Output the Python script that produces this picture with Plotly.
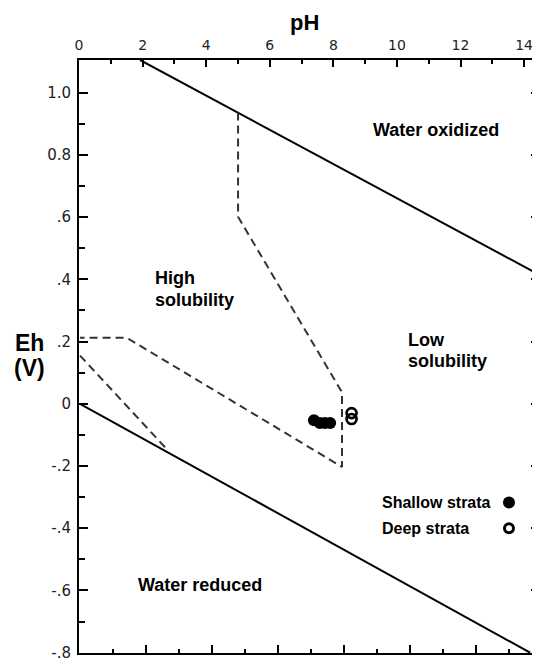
import plotly.graph_objects as go

# ---- data (pH, Eh in volts) ----
water_ox_ph = [1.82, 14.0]
water_ox_eh = [1.105, 0.41]

water_red_ph = [0.0, 13.64]
water_red_eh = [0.0, -0.80]

boundary_ph = [4.79, 4.79, 7.94, 7.94, 1.42, 0.0]
boundary_eh = [0.936, 0.601, 0.037, -0.203, 0.212, 0.212]

boundary2_ph = [0.0, 2.65]
boundary2_eh = [0.155, -0.148]

shallow_ph = [7.09, 7.27, 7.42, 7.58]
shallow_eh = [-0.053, -0.062, -0.062, -0.062]

deep_ph = [8.23, 8.23]
deep_eh = [-0.030, -0.049]

top_ticks = [0, 2, 4, 6, 8, 10, 12, 14]
eh_ticks = [-0.8, -0.6, -0.4, -0.2, 0.0, 0.2, 0.4, 0.6, 0.8, 1.0]
eh_ticktext = ["-.8", "-.6", "-.4", "-.2", "0", ".2", ".4", ".6", "0.8", "1.0"]
eh_minor = [-0.7, -0.5, -0.3, -0.1, 0.1, 0.3, 0.5, 0.7, 0.9]

legend_labels = ["Shallow strata", "Deep strata"]

# ---- figure ----
fig = go.Figure()
solid = dict(color="black", width=2)
dashed = dict(color="#333333", width=2, dash="8px,5px")

fig.add_trace(go.Scatter(x=water_ox_ph, y=water_ox_eh, mode="lines", line=solid, showlegend=False))
fig.add_trace(go.Scatter(x=water_red_ph, y=water_red_eh, mode="lines", line=solid, showlegend=False))
fig.add_trace(go.Scatter(x=boundary_ph, y=boundary_eh, mode="lines", line=dashed, showlegend=False))
fig.add_trace(go.Scatter(x=boundary2_ph, y=boundary2_eh, mode="lines", line=dashed, showlegend=False))

fig.add_trace(go.Scatter(x=shallow_ph, y=shallow_eh, mode="markers",
                         marker=dict(symbol="circle", size=12, color="black"), showlegend=False))
fig.add_trace(go.Scatter(x=deep_ph, y=deep_eh, mode="markers",
                         marker=dict(symbol="circle-open", size=10, color="black",
                                     line=dict(width=2.6, color="black")), showlegend=False))

# legend keys (text left, symbol right as in the original)
LEG_X = 13.0
LEG_Y = [-0.317, -0.400]
fig.add_trace(go.Scatter(x=[LEG_X], y=[LEG_Y[0]], mode="markers",
                         marker=dict(symbol="circle", size=12, color="black"), showlegend=False))
fig.add_trace(go.Scatter(x=[LEG_X], y=[LEG_Y[1]], mode="markers",
                         marker=dict(symbol="circle-open", size=9, color="black",
                                     line=dict(width=3, color="black")), showlegend=False))
# dummy trace to activate top axis
fig.add_trace(go.Scatter(x=[0], y=[0], xaxis="x2", mode="markers",
                         marker=dict(opacity=0), showlegend=False, hoverinfo="skip"))

lab_font = dict(family="Liberation Sans, Arial, sans-serif", size=18, color="black")
leg_font = dict(family="Liberation Sans, Arial, sans-serif", size=16, color="black")

def label(x, y, text, font, xanchor="left"):
    fig.add_annotation(x=x, y=y, xref="x", yref="y", text=text, showarrow=False,
                       xanchor=xanchor, yanchor="middle", font=font)

label(8.82, 0.879, "<b>Water oxidized</b>", lab_font)
label(2.21, 0.404, "<b>High</b>", lab_font)
label(2.21, 0.333, "<b>solubility</b>", lab_font)
label(9.88, 0.206, "<b>Low</b>", lab_font)
label(9.88, 0.136, "<b>solubility</b>", lab_font)
label(1.70, -0.582, "<b>Water reduced</b>", lab_font)
label(9.09, LEG_Y[0], "<b>%s</b>" % legend_labels[0], leg_font)
label(9.09, LEG_Y[1], "<b>%s</b>" % legend_labels[1], leg_font)

title_font = dict(family="Liberation Sans, Arial, sans-serif", size=22, color="black")
fig.add_annotation(x=0.490, y=1.064, xref="paper", yref="paper", text="<b>pH</b>",
                   showarrow=False, xanchor="center", yanchor="middle", font=title_font)
eh_font = dict(family="Liberation Sans, Arial, sans-serif", size=23, color="black")
fig.add_annotation(x=-0.108, y=0.5226, xref="paper", yref="paper", text="<b>Eh</b>",
                   showarrow=False, xanchor="center", yanchor="middle", font=eh_font)
fig.add_annotation(x=-0.108, y=0.4807, xref="paper", yref="paper", text="<b>(V)</b>",
                   showarrow=False, xanchor="center", yanchor="middle", font=eh_font)

tick_font_top = dict(family="DejaVu Sans, sans-serif", size=14, color="#222222")
tick_font_left = dict(family="DejaVu Sans, sans-serif", size=15, color="#222222")

# the page body adds an 8px offset, so the figure is 8px smaller than the window
fig.update_layout(
    width=532, height=656,
    margin=dict(l=71, r=0, t=52, b=11, autoexpand=False),
    paper_bgcolor="white", plot_bgcolor="white",
    showlegend=False,
    xaxis=dict(range=[-0.03, 13.94], showgrid=False, zeroline=False, automargin=False,
               showline=True, linecolor="black", linewidth=2,
               tickmode="linear", tick0=0, dtick=2, ticks="inside", ticklen=8,
               tickwidth=1.5, tickcolor="black", showticklabels=False,
               minor=dict(dtick=1, tick0=0, ticks="inside", ticklen=4, tickwidth=1.5, tickcolor="black")),
    xaxis2=dict(overlaying="x", side="top", range=[0, 14.5], showgrid=False, zeroline=False,
                automargin=False, ticklabeloverflow="allow",
                showline=True, linecolor="black", linewidth=2,
                tickmode="linear", tick0=0, dtick=2, ticks="inside", ticklen=7,
                tickwidth=1.5, tickcolor="black", tickfont=tick_font_top, ticklabelstandoff=2,
                minor=dict(dtick=1, tick0=0, ticks="inside", ticklen=4, tickwidth=1.5, tickcolor="black")),
    yaxis=dict(range=[-0.801, 1.105], showgrid=False, zeroline=False, automargin=False,
               ticklabeloverflow="allow",
               showline=True, linecolor="black", linewidth=2, mirror="ticks",
               tickmode="array", tickvals=eh_ticks, ticktext=eh_ticktext,
               ticks="inside", ticklen=9, tickwidth=1.5, tickcolor="black",
               tickfont=tick_font_left, ticklabelstandoff=3,
               minor=dict(tickmode="array", tickvals=eh_minor, ticks="inside", ticklen=6,
                          tickwidth=1.5, tickcolor="black")),
)

fig.write_html("out.html")
